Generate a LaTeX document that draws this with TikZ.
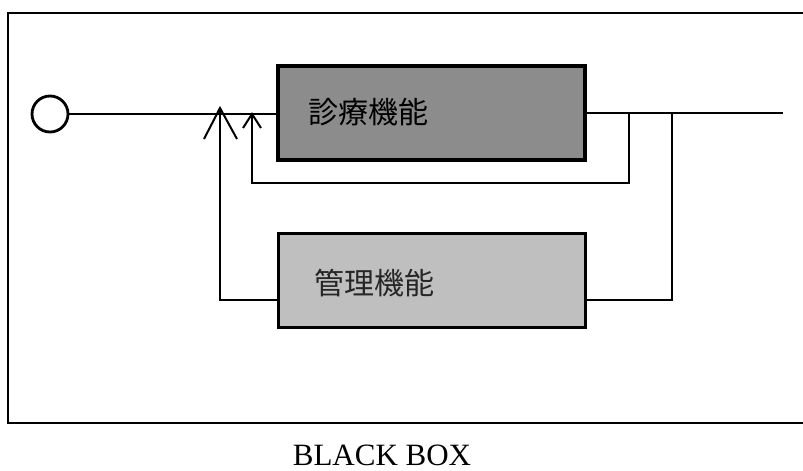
\documentclass[tikz,border=0pt]{standalone}
\usepackage{fontspec}
\setmainfont{Liberation Serif}
\newfontfamily\cjk{Noto Sans CJK JP}
\begin{document}
\begin{tikzpicture}[x=1pt,y=-1pt,
  funcbox/.style={draw=black,line width=3.4pt,minimum width=307pt,minimum height=94pt,inner sep=0pt},
  mainline/.style={line width=2.8pt},
  fbline/.style={line width=2pt},
  openhead/.style={line width=2pt}]
\useasboundingbox (0,0) rectangle (803,471);
% frame
\draw[line width=1.6pt] (803,13) -- (8,13) -- (8,423) -- (803,423);
% source
\node[draw,circle,line width=2.8pt,minimum size=36pt,inner sep=0pt] (src) at (50,114) {};
% boxes
\node[funcbox,fill=black!45] (diag) at (431.5,113) {};
\node[anchor=west,font=\cjk\fontsize{30}{30}\selectfont] (diagt) at (305,112) {診療機能};
\node[funcbox,fill=black!25] (mgmt) at (432,280.5) {};
\node[anchor=west,font=\cjk\fontsize{30}{30}\selectfont,text=black!85] (mgmtt) at (311,283) {管理機能};
% coordinates
\coordinate (out) at (783,113);
\coordinate (j1) at (629,113);
\coordinate (j1b) at (629,183);
\coordinate (a1b) at (252,183);
\coordinate (a1) at (252,114);
\coordinate (j2) at (672,113);
\coordinate (j2b) at (672,300);
\coordinate (m2r) at (586,300);
\coordinate (m2l) at (278,300);
\coordinate (a2b) at (220,300);
\coordinate (a2) at (220,108);
% main line
\draw[mainline] (src.east) -- (diag.west |- src.east);
\draw[mainline] (diag.east |- out) -- (out);
% inner feedback
\draw[fbline] (j1) -- (j1b) -- (a1b) -- (a1);
\draw[openhead] (243,128) -- (a1) -- (261,128);
% outer feedback
\draw[line width=2.8pt] (j2) -- (j2b) -- (m2r);
\draw[fbline] (m2l) -- (a2b) -- (a2);
\draw[openhead] (204,139) -- (a2) -- (237,139);
% caption
\node[font=\fontsize{31}{31}\selectfont,anchor=base,inner sep=0pt] (cap) at (382,465) {BLACK BOX};
\end{tikzpicture}
\end{document}
